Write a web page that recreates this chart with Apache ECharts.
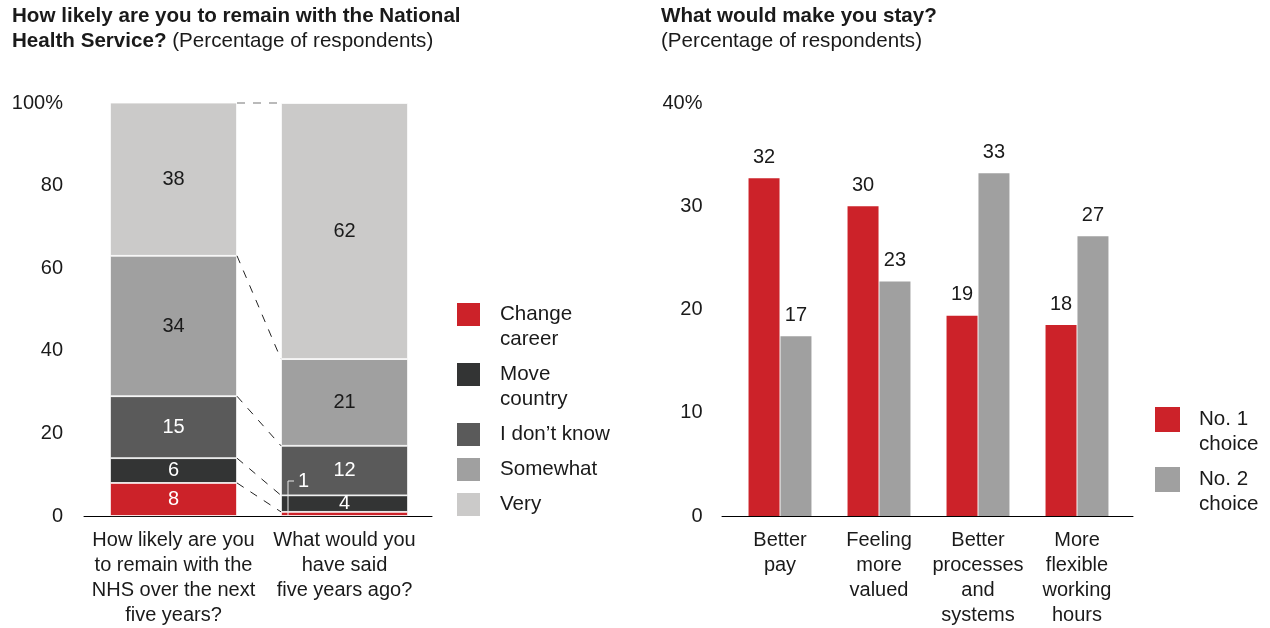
<!DOCTYPE html>
<html>
<head>
<meta charset="utf-8">
<script src="https://cdn.jsdelivr.net/npm/echarts@6/dist/echarts.min.js"></script>
<style>
html,body{margin:0;padding:0;background:#fff;}
#chart{width:1270px;height:628px;}
</style>
</head>
<body>
<div id="chart"></div>
<script>
// ---------- Data ----------
const leftCategories = ['How likely are you\nto remain with the\nNHS over the next\nfive years?', 'What would you\nhave said\nfive years ago?'];
const leftSeriesNames = ['Change\ncareer', 'Move\ncountry', 'I don’t know', 'Somewhat', 'Very'];
const changeCareer = [8, 1];
const moveCountry = [6, 4];
const dontKnow = [15, 12];
const somewhat = [34, 21];
const very = [38, 62];

const rightCategories = ['Better\npay', 'Feeling\nmore\nvalued', 'Better\nprocesses\nand\nsystems', 'More\nflexible\nworking\nhours'];
const rightSeriesNames = ['No. 1\nchoice', 'No. 2\nchoice'];
// bar heights as drawn in the picture
const choice1 = [32.7, 30, 19.4, 18.5];
const choice2 = [17.4, 22.7, 33.2, 27.1];
// numbers printed above the bars
const choice1Labels = [32, 30, 19, 18];
const choice2Labels = [17, 23, 33, 27];

const leftTitleBold = ['How likely are you to remain with the National', 'Health Service?'];
const rightTitleBold = 'What would make you stay?';
const subtitle = '(Percentage of respondents)';

// ---------- Style ----------
const FONT = "'Liberation Sans', Arial, Helvetica, sans-serif";
const FS = 20;
const FS_BIG = 20.6;
const TXT = '#1a1a1a';
const leftColors = ['#cc2229', '#333434', '#5a5a5a', '#a0a0a0', '#cbcac9'];
const leftLabelColors = ['#fff', '#fff', '#fff', TXT, TXT];
const rightColors = ['#cc2229', '#a0a0a0'];
const LEFT_BAR_W = 127;

const leftData = [changeCareer, moveCountry, dontKnow, somewhat, very];

function cumulative(idx) {
  const out = [];
  let s = 0;
  leftData.forEach(arr => { s += arr[idx]; out.push(Math.min(100, s)); });
  return out;
}
const cumA = cumulative(0), cumB = cumulative(1);
const connectors = cumA.map((v, i) => [0, v, cumB[i]]);

const chart = echarts.init(document.getElementById('chart'), null, {renderer: 'canvas'});

const leftSeries = leftSeriesNames.map((name, si) => ({
  name: name,
  type: 'bar',
  stack: 'total',
  xAxisIndex: 0, yAxisIndex: 0,
  barWidth: LEFT_BAR_W,
  itemStyle: {color: leftColors[si], borderColor: '#fff', borderWidth: 0.8},
  label: {show: true, position: 'inside', fontFamily: FONT, fontSize: FS, color: leftLabelColors[si]},
  data: leftData[si].map((v, di) => (si === 0 && di === 1) ? {value: v, label: {show: false}} : v)
}));

const rightLabelSets = [choice1Labels, choice2Labels];
const rightSeries = rightSeriesNames.map((name, si) => ({
  name: name,
  type: 'bar',
  xAxisIndex: 1, yAxisIndex: 1,
  barWidth: 31,
  barGap: '3%',
  itemStyle: {color: rightColors[si]},
  label: {show: true, position: 'top', distance: 11, fontFamily: FONT, fontSize: FS, color: TXT,
          formatter: p => String(rightLabelSets[si][p.dataIndex])},
  data: si === 0 ? choice1 : choice2
}));

// one legend component per entry so each swatch lines up with the first text line
const legendTops = {left: [301, 361, 421, 456, 491], right: [406, 466]};
function makeLegend(name, x, iconTop) {
  const multi = name.indexOf('\n') >= 0;
  return {
    orient: 'vertical', left: x, top: multi ? iconTop - 27 : iconTop - 2, padding: 0,
    itemWidth: 25, itemHeight: 25, icon: 'rect', selectedMode: false,
    formatter: n => multi ? '\n' + n : n,
    textStyle: {fontFamily: FONT, fontSize: FS_BIG, color: TXT, lineHeight: 25, padding: [6, 0, 0, 14]},
    data: [name]
  };
}
const legends = leftSeriesNames.map((n, i) => makeLegend(n, 455, legendTops.left[i]))
  .concat(rightSeriesNames.map((n, i) => makeLegend(n, 1155, legendTops.right[i])));

const richTitle = {
  b: {fontFamily: FONT, fontSize: FS_BIG, fontWeight: 'bold', color: TXT, lineHeight: 25},
  n: {fontFamily: FONT, fontSize: FS_BIG, fontWeight: 'normal', color: TXT, lineHeight: 25}
};

const option = {
  animation: false,
  textStyle: {fontFamily: FONT},
  title: [
    {
      left: 12, top: 4, padding: 0,
      text: '{b|' + leftTitleBold[0] + '}\n{b|' + leftTitleBold[1] + '}{n| ' + subtitle + '}',
      textStyle: {fontWeight: 'normal', rich: richTitle}
    },
    {
      left: 661, top: 4, padding: 0,
      text: '{b|' + rightTitleBold + '}\n{n|' + subtitle + '}',
      textStyle: {fontWeight: 'normal', rich: richTitle}
    }
  ],
  legend: legends,
  grid: [
    {left: 88, top: 103, width: 342, height: 413},
    {left: 730.5, top: 103, width: 396, height: 413},
    {left: 722, top: 103, width: 411, height: 413},
    {left: 84, top: 103, width: 348, height: 413}
  ],
  xAxis: [
    {
      type: 'category', gridIndex: 0, data: leftCategories,
      axisLine: {show: false}, axisTick: {show: false},
      axisLabel: {fontFamily: FONT, fontSize: FS, color: TXT, lineHeight: 25, margin: 12, interval: 0}
    },
    {
      type: 'category', gridIndex: 1, data: rightCategories,
      axisLine: {show: false}, axisTick: {show: false},
      axisLabel: {fontFamily: FONT, fontSize: FS, color: TXT, lineHeight: 25, margin: 12, interval: 0}
    },
    {
      type: 'value', gridIndex: 2, min: 0, max: 1,
      axisLine: {show: true, onZero: false, lineStyle: {color: '#000', width: 1}},
      axisTick: {show: false}, axisLabel: {show: false}, splitLine: {show: false}
    },
    {
      type: 'value', gridIndex: 3, min: 0, max: 1,
      axisLine: {show: true, onZero: false, lineStyle: {color: '#000', width: 1}},
      axisTick: {show: false}, axisLabel: {show: false}, splitLine: {show: false}
    }
  ],
  yAxis: [
    {
      type: 'value', gridIndex: 0, min: 0, max: 100, interval: 20,
      axisLine: {show: false}, axisTick: {show: false}, splitLine: {show: false},
      axisLabel: {fontFamily: FONT, fontSize: FS, color: TXT, margin: 25, formatter: v => v === 100 ? '100%' : String(v)}
    },
    {
      type: 'value', gridIndex: 1, min: 0, max: 40, interval: 10,
      axisLine: {show: false}, axisTick: {show: false}, splitLine: {show: false},
      axisLabel: {fontFamily: FONT, fontSize: FS, color: TXT, margin: 28, formatter: v => v === 40 ? '40%' : String(v)}
    },
    {type: 'value', gridIndex: 2, min: 0, max: 1, show: false},
    {type: 'value', gridIndex: 3, min: 0, max: 1, show: false}
  ],
  series: [
    ...leftSeries,
    {
      name: 'connectors',
      type: 'custom',
      xAxisIndex: 0, yAxisIndex: 0,
      silent: true, z: 5,
      encode: {x: 0, y: [1, 2]},
      data: connectors,
      renderItem: function (params, api) {
        const a = api.coord([0, api.value(1)]);
        const b = api.coord([1, api.value(2)]);
        const isTop = params.dataIndex === connectors.length - 1;
        return {
          type: 'line',
          shape: {x1: a[0] + LEFT_BAR_W / 2, y1: a[1], x2: b[0] - LEFT_BAR_W / 2, y2: b[1]},
          style: {stroke: isTop ? '#777' : '#222', lineWidth: 1, lineDash: [8, 8]}
        };
      }
    },
    {
      name: 'callout',
      type: 'custom',
      xAxisIndex: 0, yAxisIndex: 0,
      silent: true, z: 6,
      encode: {x: 0, y: 1},
      data: [[1, changeCareer[1]]],
      renderItem: function (params, api) {
        const base = api.coord([api.value(0), 0]);
        const x = base[0] - LEFT_BAR_W / 2 + 7;
        const yTop = base[1] - 35;
        return {
          type: 'group',
          children: [
            {type: 'polyline', shape: {points: [[x, base[1]], [x, yTop], [x + 6, yTop]]},
             style: {stroke: '#e8e8e8', lineWidth: 1, fill: null}},
            {type: 'text', style: {x: x + 10, y: yTop, text: String(api.value(1)), fill: '#fff',
              font: FS + 'px ' + FONT, verticalAlign: 'middle', align: 'left'}}
          ]
        };
      }
    },
    ...rightSeries
  ]
};

chart.setOption(option);
</script>
</body>
</html>
